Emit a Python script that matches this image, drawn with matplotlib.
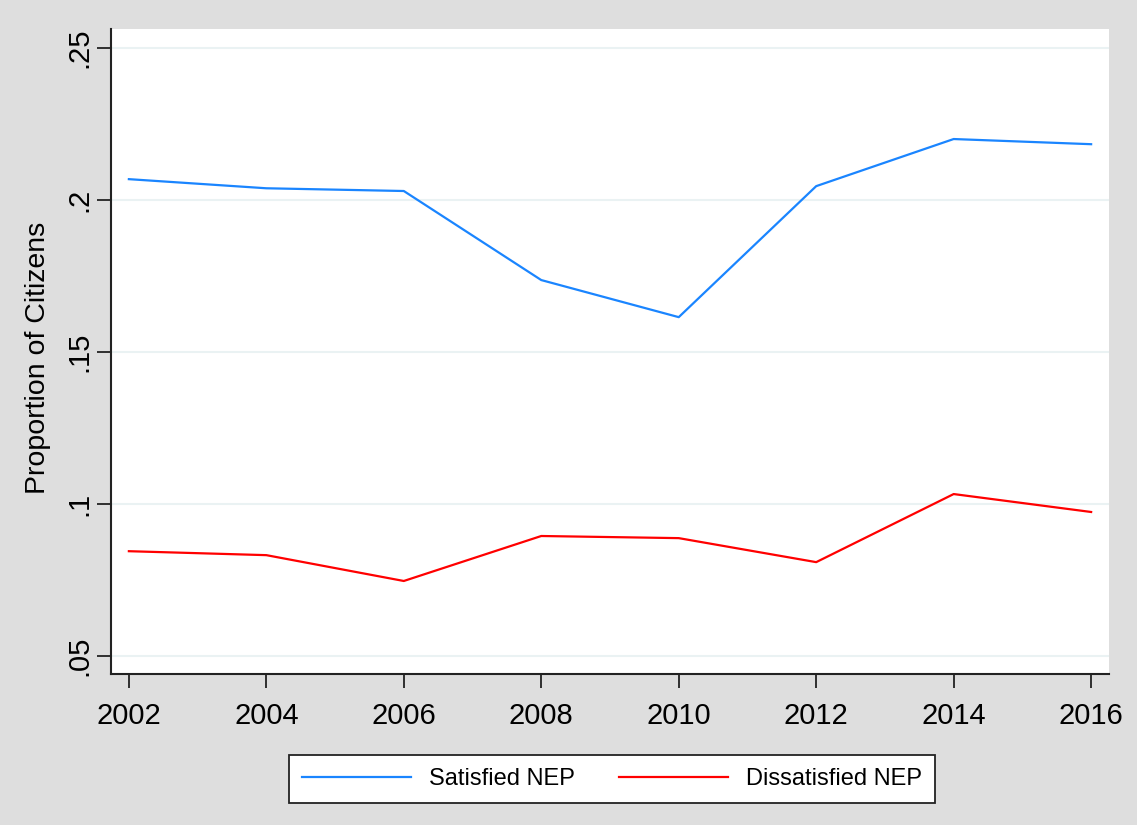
import matplotlib
matplotlib.use("Agg")
from matplotlib import pyplot as plt

# Data
years = [2002, 2004, 2006, 2008, 2010, 2012, 2014, 2016]
satisfied = [0.2069, 0.2039, 0.2030, 0.1737, 0.1615, 0.2046, 0.2201, 0.2184]
dissatisfied = [0.0845, 0.0832, 0.0747, 0.0895, 0.0888, 0.0809, 0.1033, 0.0974]
y_ticks = [0.05, 0.1, 0.15, 0.2, 0.25]
y_tick_labels = [".05", ".1", ".15", ".2", ".25"]

plt.rcParams['font.family'] = ['Liberation Sans', 'DejaVu Sans']

fig = plt.figure(figsize=(11.37, 8.25), dpi=100, facecolor='#dedede')
ax = fig.add_axes([111 / 1137, 1 - 674 / 825, 998 / 1137, 645 / 825])
ax.set_facecolor('white')

ax.plot(years, satisfied, color='#1a85ff', linewidth=1.6, label='Satisfied NEP', zorder=3)
ax.plot(years, dissatisfied, color='#ff0000', linewidth=1.6, label='Dissatisfied NEP', zorder=3)

ax.set_xlim(2001.74, 2016.26)
ax.set_ylim(0.0441, 0.2563)
ax.set_xticks(years)
ax.set_xticklabels([str(y) for y in years], fontsize=21)
ax.set_yticks(y_ticks)
ax.set_yticklabels(y_tick_labels, fontsize=21, rotation=90, va='center')
for y in y_ticks:
    ax.axhline(y, color='#eaf2f3', linewidth=1.5, zorder=1)

ax.tick_params(axis='both', direction='out', length=10, width=1.3, color='#222222')
ax.tick_params(axis='x', pad=10)
ax.tick_params(axis='y', pad=3)

for side in ['top', 'right']:
    ax.spines[side].set_visible(False)
for side in ['left', 'bottom']:
    ax.spines[side].set_linewidth(1.5)
    ax.spines[side].set_color('#222222')

ax.set_ylabel('Proportion of Citizens', fontsize=20.5)
ax.yaxis.set_label_coords(-0.06, 0.49)

leg = fig.legend(loc='center', bbox_to_anchor=(612 / 1137, 1 - 779 / 825), ncol=2,
                 fontsize=17, frameon=True, fancybox=False, handlelength=4.6,
                 columnspacing=1.9, handletextpad=0.75, borderpad=0.55,
                 edgecolor='#222222', facecolor='white', framealpha=1)
leg.get_frame().set_linewidth(1.3)

fig.savefig('out.png', dpi=100, facecolor=fig.get_facecolor())
